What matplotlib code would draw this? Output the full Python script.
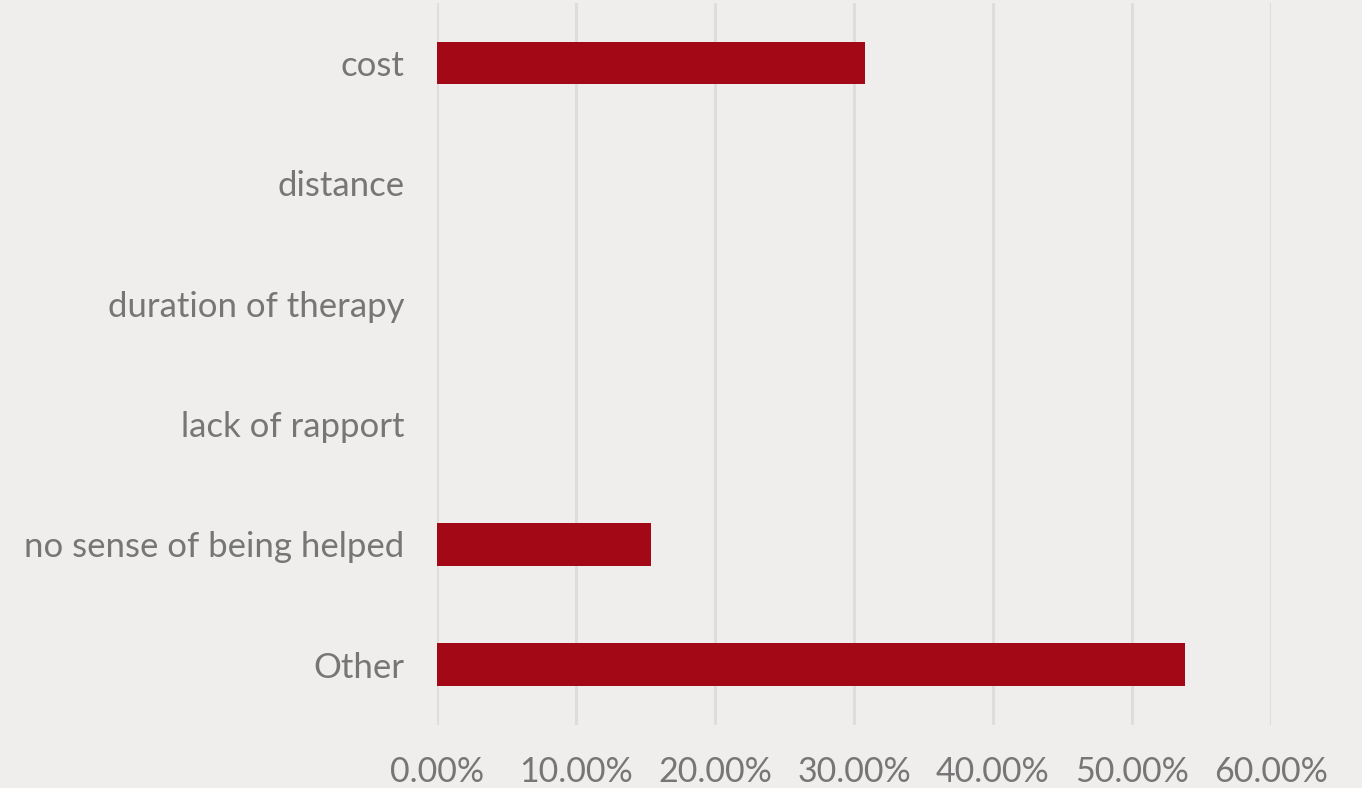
import matplotlib
matplotlib.use("Agg")
import matplotlib.pyplot as plt
from matplotlib.ticker import FuncFormatter

# Reasons for stopping therapy (share of respondents)
categories = ["cost", "distance", "duration of therapy", "lack of rapport",
              "no sense of being helped", "Other"]
shares = [0.3077, 0.0, 0.0, 0.0, 0.1538, 0.5385]
x_ticks = [0.0, 0.1, 0.2, 0.3, 0.4, 0.5, 0.6]

bg = "#EFEEEC"
bar_color = "#A20816"
grid_color = "#DEDDDB"
text_color = "#767676"

plt.rcParams["font.family"] = ["Lato", "DejaVu Sans"]

fig = plt.figure(figsize=(13.62, 7.88), dpi=100, facecolor=bg)
ax = fig.add_axes([0.3212, 0.0800, 0.6118, 0.9162], facecolor=bg)

y = list(range(len(categories)))
ax.barh(y, shares, height=0.354, color=bar_color, zorder=3)

ax.set_ylim(len(categories) - 0.5, -0.5)
ax.set_yticks(y)
ax.set_yticklabels(categories)
ax.set_xlim(0, 0.6)
ax.set_xticks(x_ticks)
ax.xaxis.set_major_formatter(FuncFormatter(lambda v, _: f"{v * 100:.2f}%"))

ax.grid(axis="x", color=grid_color, linewidth=2.2, zorder=0)
ax.set_axisbelow(True)
for s in ax.spines.values():
    s.set_visible(False)

ax.tick_params(axis="y", length=0, labelsize=25, labelcolor=text_color, pad=24)
ax.tick_params(axis="x", length=0, labelsize=24.5, labelcolor=text_color, pad=22)

fig.savefig("out.png", dpi=100, facecolor=bg)
